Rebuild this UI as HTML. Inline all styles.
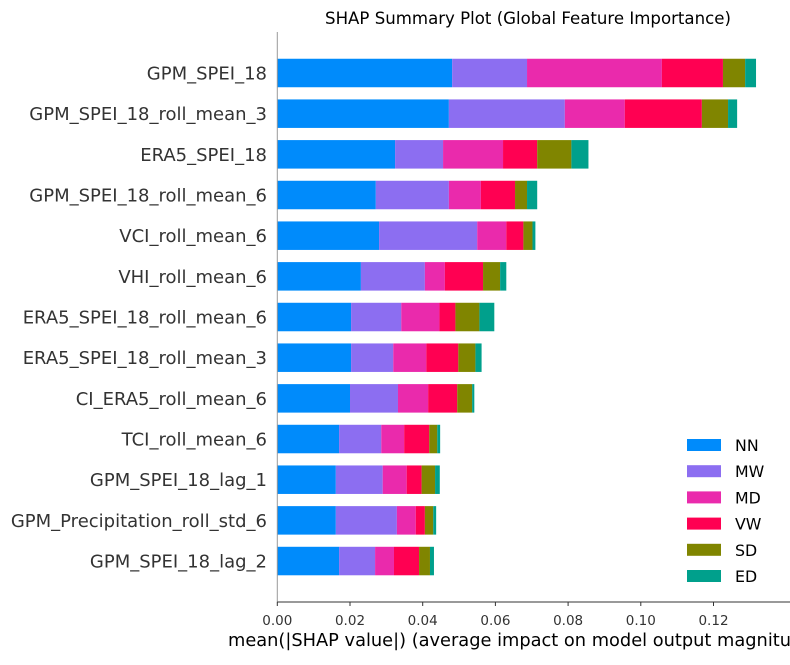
<!DOCTYPE html>
<html><head><meta charset="utf-8"><style>
body{margin:0;background:#fff;font-family:"Liberation Sans","DejaVu Sans",sans-serif}
svg text{font-family:"DejaVu Sans","Liberation Sans",sans-serif}
</style></head><body>
<svg id="chart" width="790" height="660" xmlns="http://www.w3.org/2000/svg"></svg>
<script>
const features=["GPM_SPEI_18","GPM_SPEI_18_roll_mean_3","ERA5_SPEI_18","GPM_SPEI_18_roll_mean_6","VCI_roll_mean_6","VHI_roll_mean_6","ERA5_SPEI_18_roll_mean_6","ERA5_SPEI_18_roll_mean_3","CI_ERA5_roll_mean_6","TCI_roll_mean_6","GPM_SPEI_18_lag_1","GPM_Precipitation_roll_std_6","GPM_SPEI_18_lag_2"];
const seriesNames=["NN","MW","MD","VW","SD","ED"];
const NN=[.0481,.0472,.0324,.0271,.0280,.0230,.0203,.0203,.0200,.0170,.0161,.0161,.0170];
const MW=[.0206,.0319,.0132,.0201,.0270,.0176,.0138,.0116,.0132,.0116,.0129,.0168,.0099];
const MD=[.0371,.0165,.0165,.0088,.0080,.0055,.0105,.0091,.0083,.0063,.0066,.0052,.0052];
const VW=[.0168,.0212,.0094,.0094,.0047,.0105,.0044,.0088,.0080,.0069,.0041,.0025,.0069];
const SD=[.0061,.0072,.0094,.0033,.0025,.0047,.0066,.0047,.0041,.0022,.0037,.0023,.0030];
const ED=[.0030,.0025,.0047,.0028,.0008,.0017,.0041,.0017,.0006,.0008,.0013,.0008,.0011];
const xTicks=[0,0.02,0.04,0.06,0.08,0.10,0.12];
const xTickLabels=["0.00","0.02","0.04","0.06","0.08","0.10","0.12"];
const series=[NN,MW,MD,VW,SD,ED];
const colors=["#008bfb","#8c6ef1","#ea2aac","#ff0052","#808500","#00a08c"];
const svg=document.getElementById('chart');
const NS="http://www.w3.org/2000/svg";
const x0=277.3,pxPerUnit=3635;
const xs=v=>x0+v*pxPerUnit;
const y0=73,rowStep=40.67,barH=28.5;
const ys=i=>y0+i*rowStep;
function mk(tag,attrs,parent){const e=document.createElementNS(NS,tag);for(const k in attrs)e.setAttribute(k,attrs[k]);(parent||svg).appendChild(e);return e;}
let t=mk('text',{x:528,y:24,'text-anchor':'middle','font-size':16.6,fill:'#000'});t.textContent="SHAP Summary Plot (Global Feature Importance)";


features.forEach((f,i)=>{
  let cum=0;
  series.forEach((s,j)=>{
    const r=mk('rect',{x:xs(cum),y:ys(i)-barH/2,width:s[i]*pxPerUnit,height:barH,fill:colors[j]});
    
    
    cum+=s[i];
  });
  const l=mk('text',{x:267,y:ys(i)+6.5,'text-anchor':'end','font-size':18,fill:'#333'});
  l.textContent=f;
  
  
});
let a=mk('line',{x1:x0,y1:32,x2:x0,y2:602,stroke:'#999','stroke-width':1});


a=mk('line',{x1:x0,y1:602,x2:790,y2:602,stroke:'#333','stroke-width':1});


xTicks.forEach((v,k)=>{
  const tk=mk('line',{x1:xs(v),y1:602,x2:xs(v),y2:606,stroke:'#333'});
  
  
  const tl=mk('text',{x:xs(v),y:625,'text-anchor':'middle','font-size':13.5,fill:'#333'});
  tl.textContent=xTickLabels[k];
  
  
});
t=mk('text',{x:228,y:646,'font-size':17.8,fill:'#000'});
t.textContent="mean(|SHAP value|) (average impact on model output magnitude)";


seriesNames.forEach((n,j)=>{
  const yy=445+j*26.2;
  const p=mk('rect',{x:687,y:yy-6,width:34,height:12,fill:colors[j]});
  
  
  const lt=mk('text',{x:735,y:yy+6,'font-size':15.8,fill:'#000'});
  lt.textContent=n;
  
  
});
</script>
</body></html>
